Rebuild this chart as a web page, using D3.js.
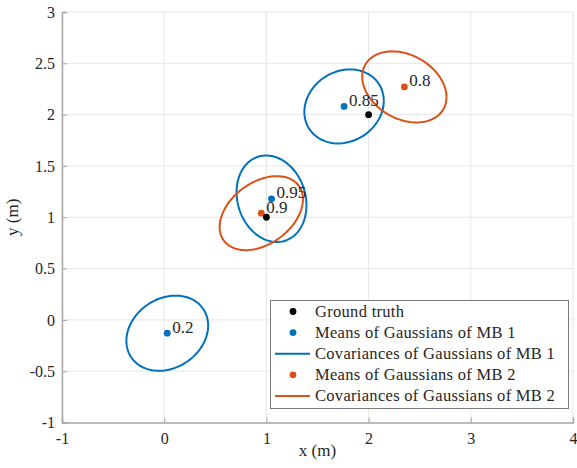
<!DOCTYPE html>
<html>
<head>
<meta charset="utf-8">
<script src="https://cdn.jsdelivr.net/npm/d3@7"></script>
<style>
  body { margin: 0; background: #fff; }
  text { font-family: "Liberation Serif", "DejaVu Serif", serif; fill: #262626; }
</style>
</head>
<body>
<div id="chart"></div>
<script>
// Ground truth positions
var truthX = [1, 2];
var truthY = [1, 2];

// MB 1: means, weights and covariances [sxx, sxy, syy]
var mb1X = [0.03, 1.05, 1.76];
var mb1Y = [-0.13, 1.18, 2.08];
var mb1W = ["0.2", "0.95", "0.85"];
var mb1Cov = [[0.160, 0.030, 0.134], [0.117, -0.022, 0.178], [0.151, 0.021, 0.130]];

// MB 2
var mb2X = [0.95, 2.35];
var mb2Y = [1.04, 2.27];
var mb2W = ["0.9", "0.8"];
var mb2Cov = [[0.166, 0.055, 0.130], [0.170, -0.041, 0.120]];

var xTicks = [-1, 0, 1, 2, 3, 4];
var yTicks = [-1, -0.5, 0, 0.5, 1, 1.5, 2, 2.5, 3];
var legendLabels = ["Ground truth", "Means of Gaussians of MB 1", "Covariances of Gaussians of MB 1",
                    "Means of Gaussians of MB 2", "Covariances of Gaussians of MB 2"];

var blue = "#0072BD", red = "#D95319";
var width = 577, height = 468;
var margin = { top: 12, right: 4, bottom: 45.5, left: 62 };

var svg = d3.select("#chart").append("svg")
  .attr("width", width)
  .attr("height", height);

var x = d3.scaleLinear().domain([-1, 4]).range([margin.left, width - margin.right]);
var y = d3.scaleLinear().domain([-1, 3]).range([height - margin.bottom, margin.top]);

// grid
svg.append("g").selectAll("line").data(xTicks).enter().append("line")
  .attr("x1", function(d) { return x(d); }).attr("x2", function(d) { return x(d); })
  .attr("y1", y(-1)).attr("y2", y(3))
  .attr("stroke", "#e6e6e6").attr("stroke-width", 1);
svg.append("g").selectAll("line").data(yTicks).enter().append("line")
  .attr("y1", function(d) { return y(d); }).attr("y2", function(d) { return y(d); })
  .attr("x1", x(-1)).attr("x2", x(4))
  .attr("stroke", "#e6e6e6").attr("stroke-width", 1);

// axes
var fmt = function(d) { return String(d); };
var xAxis = svg.append("g")
  .attr("transform", "translate(0," + y(-1) + ")")
  .call(d3.axisBottom(x).tickValues(xTicks).tickSize(-5).tickPadding(10).tickFormat(fmt));
var yAxis = svg.append("g")
  .attr("transform", "translate(" + x(-1) + ",0)")
  .call(d3.axisLeft(y).tickValues(yTicks).tickSize(-5).tickPadding(7).tickFormat(fmt));
[xAxis, yAxis].forEach(function(a) {
  a.select(".domain").attr("stroke", "#a8a8a8").attr("stroke-width", 1.5);
  a.selectAll(".tick line").attr("stroke", "#a8a8a8");
  a.selectAll(".tick text").attr("font-size", 16).attr("fill", "#262626")
    .attr("font-family", "Liberation Serif, serif");
});

// axis labels
svg.append("text").attr("x", (x(-1) + x(4)) / 2).attr("y", 456)
  .attr("text-anchor", "middle").attr("font-size", 17).text("x (m)");
svg.append("text").attr("transform", "translate(18," + (y(-1) + y(3)) / 2 + ") rotate(-90)")
  .attr("text-anchor", "middle").attr("font-size", 17).text("y (m)");

// covariance ellipses
function ellipse(mx, my, c) {
  var a = Math.sqrt(c[0]), b = c[1] / a, cc = Math.sqrt(c[2] - b * b);
  return d3.range(0, 101).map(function(i) {
    var t = i / 100 * 2 * Math.PI;
    return [x(mx + a * Math.cos(t)), y(my + b * Math.cos(t) + cc * Math.sin(t))];
  });
}
var line = d3.line();
mb1Cov.forEach(function(c, i) {
  svg.append("path").attr("d", line(ellipse(mb1X[i], mb1Y[i], c)))
    .attr("fill", "none").attr("stroke", blue).attr("stroke-width", 2);
});
mb2Cov.forEach(function(c, i) {
  svg.append("path").attr("d", line(ellipse(mb2X[i], mb2Y[i], c)))
    .attr("fill", "none").attr("stroke", red).attr("stroke-width", 2);
});

// means and ground truth
function dots(xs, ys, col) {
  svg.append("g").selectAll("circle").data(xs).enter().append("circle")
    .attr("cx", function(d) { return x(d); })
    .attr("cy", function(d, i) { return y(ys[i]); })
    .attr("r", 3.4).attr("fill", col);
}
dots(mb1X, mb1Y, blue);
dots(mb2X, mb2Y, red);
dots(truthX, truthY, "#000");

// weight labels
function labels(xs, ys, ws) {
  svg.append("g").selectAll("text").data(ws).enter().append("text")
    .attr("x", function(d, i) { return x(xs[i]) + 5; })
    .attr("y", function(d, i) { return y(ys[i]) - 6; })
    .attr("dominant-baseline", "central")
    .attr("font-size", 17)
    .text(function(d) { return d; });
}
labels(mb1X, mb1Y, mb1W);
labels(mb2X, mb2Y, mb2W);

// legend
var lg = svg.append("g");
lg.append("rect").attr("x", 270.5).attr("y", 300.5).attr("width", 298).attr("height", 108)
  .attr("fill", "#fff").attr("stroke", "#7a7a7a").attr("stroke-width", 1);
var kinds = ["dot", "dot", "line", "dot", "line"];
var cols = ["#000", blue, blue, red, red];
legendLabels.forEach(function(t, i) {
  var yy = 311.5 + i * 21.1;
  if (kinds[i] === "dot") {
    lg.append("circle").attr("cx", 293).attr("cy", yy).attr("r", 3.4).attr("fill", cols[i]);
  } else {
    lg.append("line").attr("x1", 275).attr("x2", 310).attr("y1", yy).attr("y2", yy)
      .attr("stroke", cols[i]).attr("stroke-width", 2);
  }
  lg.append("text").attr("x", 315).attr("y", yy).attr("dominant-baseline", "central")
    .attr("font-size", 16.5).attr("letter-spacing", 0.3).text(t);
});
</script>
</body>
</html>
